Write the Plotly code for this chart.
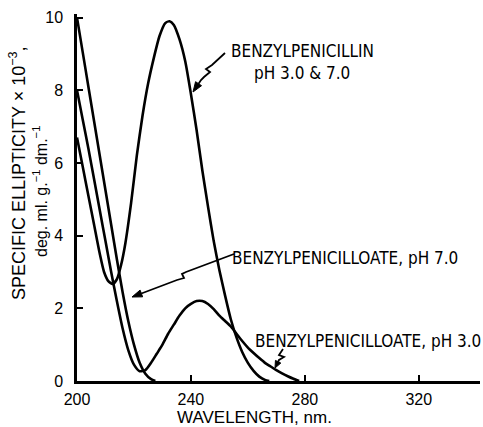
import math
import plotly.graph_objects as go

# ---- data ----
wl_pen = [200, 202, 204, 206, 208, 209.5, 211, 212.5, 214, 215.5, 217, 219, 221, 223, 225, 227, 229, 231,
          232.5, 234, 236, 238, 240, 242, 244, 246, 248, 250, 252, 254, 256, 258, 260, 262, 264, 266, 267.5]
ell_pen = [6.7, 5.9, 5.1, 4.3, 3.5, 3.0, 2.75, 2.67, 2.8, 3.2, 3.8, 4.9, 6.2, 7.3, 8.2, 8.9, 9.5, 9.85,
           9.9, 9.8, 9.4, 8.8, 7.9, 6.9, 5.8, 4.8, 3.85, 3.05, 2.35, 1.7, 1.2, 0.8, 0.5, 0.28, 0.12, 0.03, 0.0]

wl_pc7 = [200, 202, 204, 206, 208, 210, 212, 214, 216, 218, 220, 222, 224, 226, 227.5]
ell_pc7 = [10.0, 9.05, 8.1, 7.15, 6.2, 5.25, 4.3, 3.35, 2.45, 1.65, 1.0, 0.5, 0.2, 0.05, 0.0]

wl_pc3 = [200, 202, 204, 206, 208, 210, 212, 214, 216, 218, 220, 222, 224, 226, 228, 230, 232, 234, 236,
          238, 240, 242, 244, 246, 248, 250, 252, 254, 256, 258, 260, 262, 264, 266, 268, 270, 272, 274,
          276, 278]
ell_pc3 = [8.0, 7.2, 6.4, 5.55, 4.7, 3.85, 3.0, 2.2, 1.45, 0.85, 0.45, 0.27, 0.3, 0.5, 0.75, 1.0, 1.3,
           1.55, 1.8, 2.0, 2.12, 2.2, 2.2, 2.12, 1.98, 1.8, 1.65, 1.5, 1.3, 1.1, 0.92, 0.77, 0.63, 0.5,
           0.4, 0.3, 0.21, 0.13, 0.06, 0.0]

x_ticks = [200, 240, 280, 320]
y_ticks = [0, 2, 4, 6, 8, 10]

# ---- layout geometry ----
W, H = 483, 427
ML, MR, MT, MB = 77, 3, 14, 46
XR = [200, 341.5]
YR = [0, 10.1]
pw, ph = W - ML - MR, H - MT - MB


def dx(p):  # pixel -> data x
    return XR[0] + (p - ML) / pw * (XR[1] - XR[0])


def dy(p):  # pixel -> data y
    return YR[0] + (H - MB - p) / ph * (YR[1] - YR[0])


def px(p):
    return (p - ML) / pw


def py(p):
    return (H - MB - p) / ph


LW = 2.6
fig = go.Figure()
for xs, ys in [(wl_pen, ell_pen), (wl_pc7, ell_pc7), (wl_pc3, ell_pc3)]:
    fig.add_trace(go.Scatter(x=xs, y=ys, mode="lines",
                             line=dict(color="black", width=LW, shape="spline", smoothing=0.6),
                             showlegend=False, hoverinfo="skip"))

lab_font = dict(family="Liberation Sans Narrow, DejaVu Sans Condensed, Arial Narrow, sans-serif",
                size=17, color="black")

annotations = []
shapes = []


def path_of(points, close=False):
    d = "M " + " L ".join(f"{dx(a):.4f},{dy(b):.4f}" for a, b in points)
    return d + (" Z" if close else "")


def pointer(points, tip, hl=10, hw=3.6):
    # squiggly leader line ending in a filled arrowhead at tip (pixel coords)
    sx, sy = points[-1]
    vx, vy = tip[0] - sx, tip[1] - sy
    n = math.hypot(vx, vy)
    ux, uy = vx / n, vy / n
    bx, by = tip[0] - ux * hl, tip[1] - uy * hl
    shapes.append(dict(type="path", path=path_of(points + [(bx, by)]), xref="x", yref="y",
                       line=dict(color="black", width=1.8)))
    tri = [tip, (bx - uy * hw, by + ux * hw), (bx + uy * hw, by - ux * hw)]
    shapes.append(dict(type="path", path=path_of(tri, close=True), xref="x", yref="y",
                       line=dict(color="black", width=1), fillcolor="black"))


pointer([(225, 53), (212, 65), (206, 69), (210, 72), (204, 77), (201, 80)], (193, 92))
pointer([(234, 254), (186, 272), (182, 274), (184, 278), (177, 280)], (132, 297))
pointer([(283, 349), (279, 355), (284, 357), (279, 360)], (275, 368), hl=7, hw=3)


def text(t, cx, cy, font=lab_font, **kw):
    annotations.append(dict(x=px(cx), y=py(cy), xref="paper", yref="paper", text=t,
                            showarrow=False, font=font, xanchor="center", yanchor="middle", **kw))


text("BENZYLPENICILLIN", 302, 51)
text("pH 3.0 &amp; 7.0", 302, 73)
text("BENZYLPENICILLOATE, pH 7.0", 345, 258)
text("BENZYLPENICILLOATE, pH 3.0", 368, 341)

sans = "Liberation Sans, Arial, sans-serif"
text("WAVELENGTH, nm.", 254, 417, font=dict(family=sans, size=17, color="black"))
text("SPECIFIC ELLIPTICITY × 10<sup>−3</sup>,", 18, 173,
     font=dict(family=sans, size=18, color="black"), textangle=-90)
text("deg. ml. g.<sup>−1</sup> dm.<sup>−1</sup>", 40, 192,
     font=dict(family=sans, size=16, color="black"), textangle=-90)

tick_font = dict(family=sans, size=16, color="black")
fig.update_layout(
    width=W, height=H, margin=dict(l=ML, r=MR, t=MT, b=MB),
    paper_bgcolor="white", plot_bgcolor="white",
    showlegend=False,
    xaxis=dict(range=XR, tickvals=x_ticks, ticktext=[str(v) for v in x_ticks], ticks="inside",
               ticklen=6, tickwidth=2, tickcolor="black", showline=True, linecolor="black",
               linewidth=2.5, showgrid=False, zeroline=False, tickfont=tick_font,
               ticklabelstandoff=2),
    yaxis=dict(range=YR, tickvals=y_ticks, ticktext=[str(v) for v in y_ticks], ticks="inside",
               ticklen=6, tickwidth=2, tickcolor="black", showline=True, linecolor="black",
               linewidth=2.5, showgrid=False, zeroline=False, tickfont=tick_font,
               ticklabelstandoff=8),
    annotations=annotations, shapes=shapes,
)

fig.write_html("out.html")
